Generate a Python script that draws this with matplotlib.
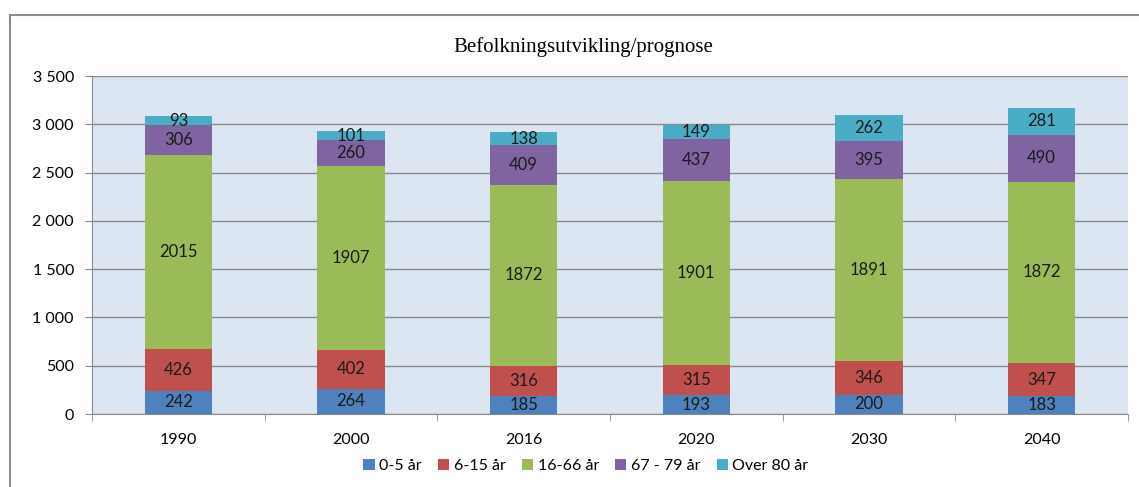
import matplotlib.pyplot as plt
from matplotlib.patches import Rectangle
import numpy as np

years = ['1990', '2000', '2016', '2020', '2030', '2040']
groups = ['0-5 år', '6-15 år', '16-66 år', '67 - 79 år', 'Over 80 år']
age_0_5 = [242, 264, 185, 193, 200, 183]
age_6_15 = [426, 402, 316, 315, 346, 347]
age_16_66 = [2015, 1907, 1872, 1901, 1891, 1872]
age_67_79 = [306, 260, 409, 437, 395, 490]
age_80 = [93, 101, 138, 149, 262, 281]
series = [age_0_5, age_6_15, age_16_66, age_67_79, age_80]
colors = ['#4f81bd', '#c0504d', '#9bbb59', '#8064a2', '#4bacc6']

plt.rcParams['font.family'] = ['Lato', 'DejaVu Sans']

W, H = 1139, 487
fig = plt.figure(figsize=(W / 100, H / 100), dpi=100)
ax = fig.add_axes([92 / W, 1 - 414 / H, (1128 - 92) / W, (414 - 76) / H])
ax.set_facecolor('#dce6f2')

x = np.arange(len(years))
bottom = np.zeros(len(years))
for vals, col, name in zip(series, colors, groups):
    bars = ax.bar(x, vals, 0.39, bottom=bottom, color=col, label=name, zorder=3)
    ax.bar_label(bars, labels=[str(v) for v in vals], label_type='center',
                 fontsize=12, color='#1a1a1a')
    bottom += vals

ax.set_xlim(-0.5, len(years) - 0.5)
ax.set_ylim(0, 3500)
ax.set_yticks(range(0, 3501, 500))
ax.set_yticklabels([f'{v:,}'.replace(',', ' ') for v in range(0, 3501, 500)])
ax.yaxis.grid(True, color='#8a8a8a', linewidth=1, zorder=0)
ax.set_axisbelow(True)

ax.set_xticks(x)
ax.set_xticklabels(years)
ax.set_xticks(np.arange(-0.5, len(years)), minor=True)
ax.tick_params(axis='x', which='major', length=0, pad=14, labelsize=11.5)
ax.tick_params(axis='x', which='minor', length=5, color='#8a8a8a')
ax.tick_params(axis='y', length=5, color='#8a8a8a', labelsize=11.5, pad=8)

for s in ['top', 'right']:
    ax.spines[s].set_visible(False)
for s in ['left', 'bottom']:
    ax.spines[s].set_color('#8a8a8a')

fig.text(583 / W, 1 - 47 / H, 'Befolkningsutvikling/prognose', ha='center', va='center',
         fontsize=15, family='Liberation Serif')

fig.legend(loc='center', bbox_to_anchor=(586 / W, 1 - 466 / H), ncol=5, frameon=False,
           fontsize=11.5, handlelength=0.7, handleheight=0.7, handletextpad=0.3,
           columnspacing=1.0)

fig.patches.append(Rectangle((10 / W, -0.5), 2, 1.5 - 15 / H, transform=fig.transFigure,
                             fill=False, edgecolor='#8c8c8c', linewidth=1.5))

plt.savefig('out.png', dpi=100)
